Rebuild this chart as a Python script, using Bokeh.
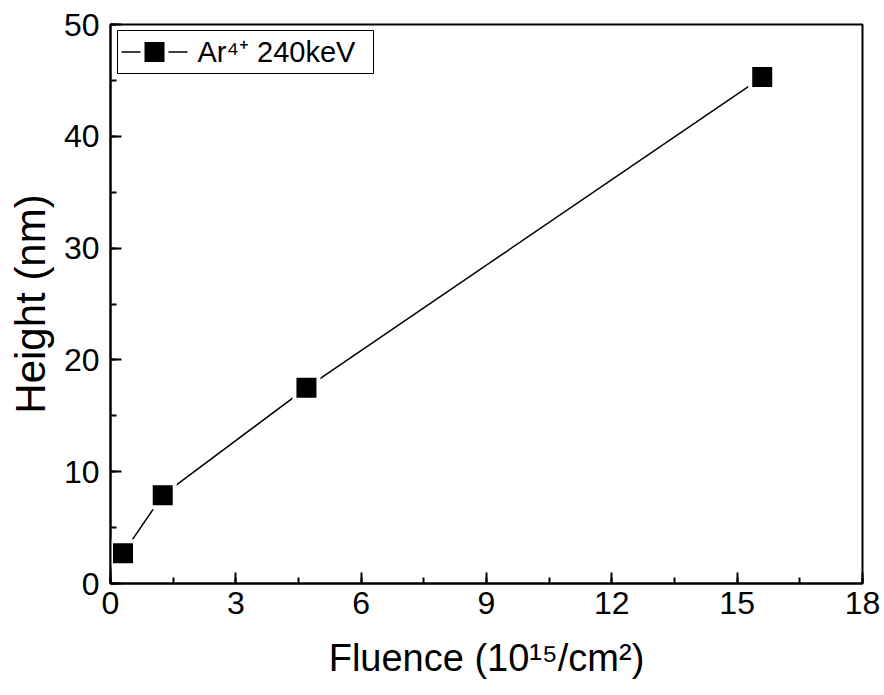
from bokeh.plotting import figure
from bokeh.models import Range1d, SingleIntervalTicker, BoxAnnotation, Label, ColumnDataSource
from bokeh.embed import file_html
from bokeh.resources import INLINE

fluence = [0.30, 1.25, 4.69, 15.6]
height = [2.7, 7.9, 17.5, 45.3]
series_label = "Ar\u2074\u207a 240keV"
x_label = "Fluence (10\u00b9\u2075/cm\u00b2)"
y_label = "Height (nm)"
x_lim = (0, 18)
y_lim = (0, 50)

FONT = "Liberation Sans"
W, H = 884, 695
BL, BR, BT, BB = 110, 22, 24, 112
FW, FH = W - BL - BR, H - BT - BB


def px2x(px):
    return x_lim[0] + (px - BL) / FW * (x_lim[1] - x_lim[0])


def py2y(py):
    return y_lim[0] + (BT + FH - py) / FH * (y_lim[1] - y_lim[0])


p = figure(width=W, height=H, output_backend="svg", toolbar_location=None,
           x_range=Range1d(*x_lim), y_range=Range1d(*y_lim))
p.min_border_left = BL
p.min_border_right = BR
p.min_border_top = BT
p.min_border_bottom = BB
p.xgrid.visible = False
p.ygrid.visible = False
p.background_fill_color = "white"
p.border_fill_color = "white"
p.outline_line_color = "black"
p.outline_line_width = 2

src = ColumnDataSource(dict(x=fluence, y=height))
p.line("x", "y", source=src, line_color="black", line_width=1.5)
p.scatter("x", "y", source=src, marker="square", size=24, fill_color="black",
          line_color="white", line_width=4)

p.xaxis.ticker = SingleIntervalTicker(interval=3, num_minor_ticks=2)
p.yaxis.ticker = SingleIntervalTicker(interval=10, num_minor_ticks=2)

for ax in (p.xaxis[0], p.yaxis[0]):
    ax.axis_line_width = 2
    ax.axis_line_color = "black"
    ax.major_tick_in = 11
    ax.major_tick_out = 0
    ax.minor_tick_in = 6
    ax.minor_tick_out = 0
    ax.major_tick_line_width = 2
    ax.minor_tick_line_width = 2
    ax.major_tick_line_color = "black"
    ax.minor_tick_line_color = "black"
    ax.major_label_text_font = FONT
    ax.major_label_text_font_size = "32px"
    ax.major_label_text_color = "black"
    ax.axis_label_text_font = FONT
    ax.axis_label_text_font_style = "normal"
    ax.axis_label_text_color = "black"

p.xaxis.axis_label = x_label
p.yaxis.axis_label = y_label
p.xaxis.axis_label_text_font_size = "38px"
p.yaxis.axis_label_text_font_size = "42px"
p.xaxis.major_label_standoff = 8
p.xaxis.axis_label_standoff = 20
p.yaxis.major_label_standoff = 11
p.yaxis.axis_label_standoff = 7

# legend drawn by hand (layout positions in pixels, converted to data units)
p.add_layout(BoxAnnotation(left=px2x(117), right=px2x(373), top=py2y(30), bottom=py2y(73),
                           fill_color="white", fill_alpha=1, line_color="black",
                           line_alpha=1, line_width=1, level="annotation"))
leg_y = py2y(51.5)
leg = ColumnDataSource(dict(x0=[px2x(121)], x1=[px2x(187)], y=[leg_y], xm=[px2x(154)]))
p.segment(x0="x0", y0="y", x1="x1", y1="y", source=leg, line_color="black",
          line_width=1.5, level="overlay")
p.scatter(x="xm", y="y", source=leg, marker="square", size=24, fill_color="black",
          line_color="white", line_width=4, level="overlay")
p.add_layout(Label(x=px2x(197), y=leg_y, text=series_label, text_font=FONT,
                   text_font_size="29px", text_color="black", text_baseline="middle",
                   level="overlay"))

open("out.html", "w").write(file_html(p, INLINE))
